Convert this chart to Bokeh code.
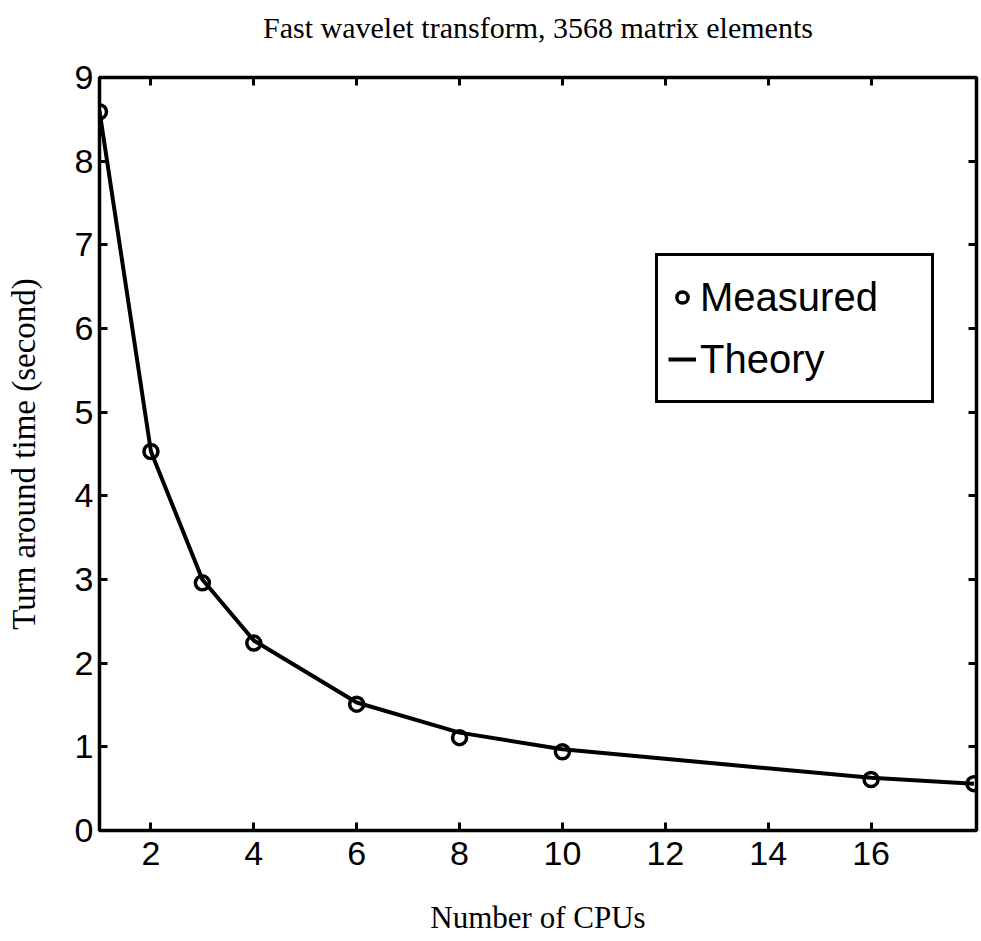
from bokeh.plotting import figure
from bokeh.models import (LinearAxis, FixedTicker, Legend, LegendItem, Range1d,
                          CustomJSTickFormatter)
from bokeh.embed import file_html
from bokeh.resources import INLINE

# ---- data ----
cpus = [1, 2, 3, 4, 6, 8, 10, 16, 18]
measured = [8.59, 4.53, 2.96, 2.24, 1.51, 1.11, 0.94, 0.61, 0.56]
theory = [8.60, 4.53, 3.00, 2.27, 1.53, 1.17, 0.97, 0.63, 0.56]
x_ticks = [2, 4, 6, 8, 10, 12, 14, 16]
y_ticks = [0, 1, 2, 3, 4, 5, 6, 7, 8, 9]

title_text = "Fast wavelet transform, 3568 matrix elements"
x_label = "Number of CPUs"
y_label = "Turn around time (second)"

SANS = "Liberation Sans"
SERIF = "Liberation Serif"

p = figure(width=980, height=940,
           x_range=Range1d(1, 18.05), y_range=Range1d(0, 9),
           output_backend="svg", toolbar_location=None,
           x_axis_label=x_label, y_axis_label=y_label)

p.min_border_left = 99
p.min_border_right = 4
p.min_border_top = 77
p.min_border_bottom = 110

p.background_fill_color = "white"
p.border_fill_color = "white"
p.outline_line_color = "black"
p.outline_line_width = 3.5
p.xgrid.visible = False
p.ygrid.visible = False


def style_axis(ax, ticks, show_labels=True):
    ax.ticker = FixedTicker(ticks=ticks)
    ax.axis_line_color = None
    ax.major_tick_in = 8
    ax.major_tick_out = 0
    ax.major_tick_line_width = 3
    ax.major_tick_line_color = "black"
    ax.minor_tick_line_color = None
    if show_labels:
        ax.major_label_text_font = SANS
        ax.major_label_text_font_size = "34px"
        ax.major_label_text_color = "black"
    else:
        ax.formatter = CustomJSTickFormatter(code="return ''")
        ax.major_label_text_font_size = "0px"
        ax.major_label_standoff = 0


def style_label(ax, size):
    ax.axis_label_text_font = SERIF
    ax.axis_label_text_font_style = "normal"
    ax.axis_label_text_color = "black"
    ax.axis_label_text_font_size = size


xa = p.xaxis[0]
ya = p.yaxis[0]
style_axis(xa, x_ticks)
style_axis(ya, y_ticks)
xa.major_label_standoff = 11
ya.major_label_standoff = 6

style_label(xa, "31px")
xa.axis_label_standoff = 32
style_label(ya, "33px")
ya.axis_label_standoff = 30

# top axis: ticks only, carries the chart title as its label
top_ax = LinearAxis(axis_label=title_text)
style_axis(top_ax, x_ticks, show_labels=False)
style_label(top_ax, "30px")
top_ax.axis_label_standoff = 34
p.add_layout(top_ax, "above")

right_ax = LinearAxis()
style_axis(right_ax, y_ticks, show_labels=False)
p.add_layout(right_ax, "right")

# ---- glyphs ----
ln = p.line(cpus, theory, line_color="black", line_width=4)
sc = p.scatter(cpus, measured, marker="circle", size=14, fill_color=None,
               line_color="black", line_width=3.5)

legend = Legend(items=[LegendItem(label="Measured", renderers=[sc]),
                       LegendItem(label="Theory", renderers=[ln])],
                location=(556, 427))
legend.border_line_color = "black"
legend.border_line_alpha = 1
legend.border_line_width = 3
legend.background_fill_color = "white"
legend.background_fill_alpha = 1
legend.label_text_font = SANS
legend.label_text_font_size = "40px"
legend.label_text_color = "black"
legend.glyph_width = 28
legend.glyph_height = 30
legend.label_standoff = 4
legend.padding = 10
legend.spacing = 0
legend.label_height = 62
legend.label_width = 221
legend.margin = 0
p.add_layout(legend)

open("out.html", "w").write(file_html(p, INLINE))
